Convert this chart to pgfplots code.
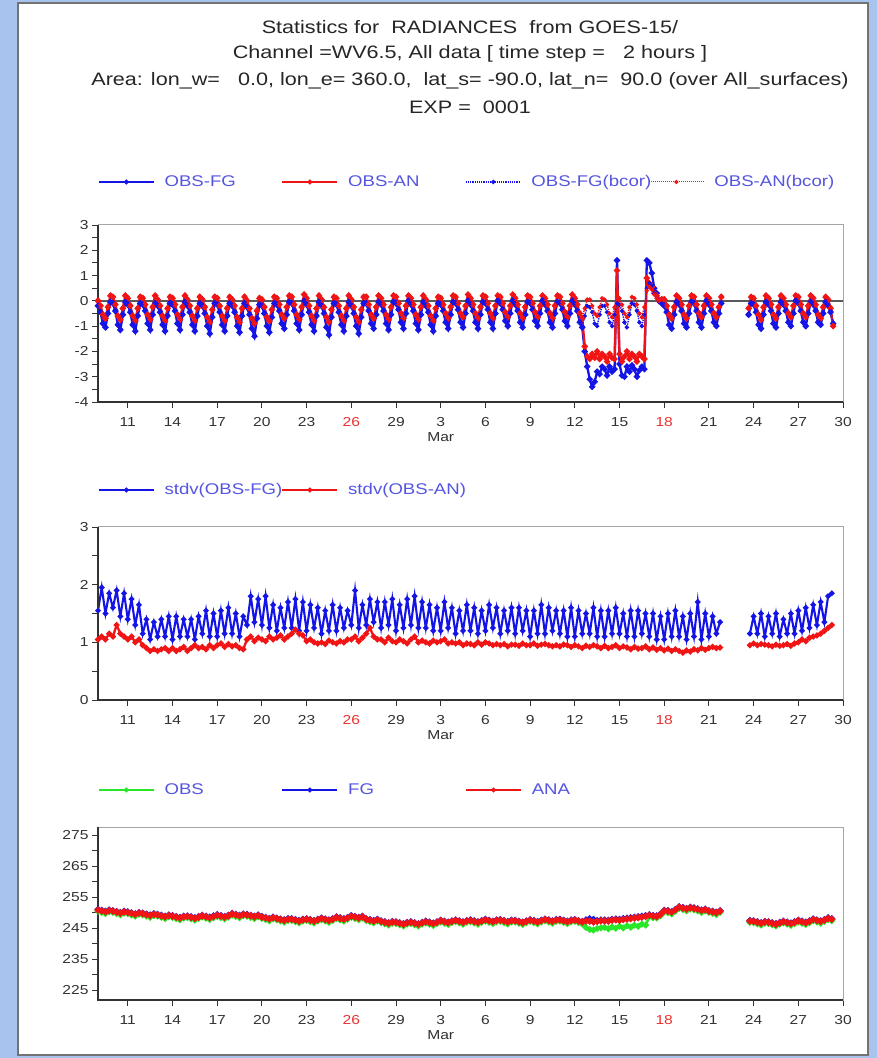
\documentclass[border=0pt]{standalone}
\usepackage{pgfplots}
\pgfplotsset{compat=1.18}
\usepackage{pgfplotstable}
\usepackage{fontspec}
\setmainfont{Liberation Sans}[FakeStretch=1.2]

\definecolor{bgblue}{RGB}{168,196,238}
\definecolor{pblue}{RGB}{20,20,230}
\definecolor{pred}{RGB}{240,20,20}
\definecolor{pgreen}{RGB}{40,230,40}
\definecolor{legtext}{RGB}{85,85,225}
\definecolor{ticktext}{RGB}{50,50,50}
\definecolor{redlab}{RGB}{235,50,50}

% Panel 1: departures, 4-hourly (h = hours since 9 Feb 00Z)
\pgfplotstableread{
h fg an fgb anb
0 -0.20 0.00 -0.15 0.05
4 -0.45 -0.20 -0.40 -0.15
8 -0.90 -0.55 -0.85 -0.50
12 -1.05 -0.70 -1.00 -0.65
16 -0.50 -0.25 -0.45 -0.20
20 -0.05 0.20 0.00 0.25
24 -0.10 0.15 -0.05 0.20
28 -0.40 -0.15 -0.35 -0.10
32 -0.95 -0.60 -0.90 -0.55
36 -1.15 -0.75 -1.10 -0.70
40 -0.55 -0.30 -0.50 -0.25
44 -0.05 0.20 0.00 0.25
48 -0.15 0.10 -0.10 0.15
52 -0.45 -0.20 -0.40 -0.15
56 -0.95 -0.60 -0.90 -0.55
60 -1.20 -0.80 -1.15 -0.75
64 -0.60 -0.30 -0.55 -0.25
68 -0.10 0.15 -0.05 0.20
72 -0.15 0.10 -0.10 0.15
76 -0.40 -0.15 -0.35 -0.10
80 -0.90 -0.55 -0.85 -0.50
84 -1.15 -0.75 -1.10 -0.70
88 -0.55 -0.25 -0.50 -0.20
92 -0.10 0.20 -0.05 0.25
96 -0.20 0.05 -0.15 0.10
100 -0.45 -0.20 -0.40 -0.15
104 -0.95 -0.60 -0.90 -0.55
108 -1.20 -0.80 -1.15 -0.75
112 -0.60 -0.30 -0.55 -0.25
116 -0.10 0.15 -0.05 0.20
120 -0.15 0.10 -0.10 0.15
124 -0.40 -0.15 -0.35 -0.10
128 -0.90 -0.55 -0.85 -0.50
132 -1.15 -0.75 -1.10 -0.70
136 -0.55 -0.25 -0.50 -0.20
140 -0.05 0.20 0.00 0.25
144 -0.20 0.05 -0.15 0.10
148 -0.45 -0.20 -0.40 -0.15
152 -0.95 -0.60 -0.90 -0.55
156 -1.20 -0.80 -1.15 -0.75
160 -0.60 -0.30 -0.55 -0.25
164 -0.10 0.15 -0.05 0.20
168 -0.20 0.05 -0.15 0.10
172 -0.50 -0.25 -0.45 -0.20
176 -1.00 -0.65 -0.95 -0.60
180 -1.30 -0.85 -1.25 -0.80
184 -0.65 -0.35 -0.60 -0.30
188 -0.10 0.15 -0.05 0.20
192 -0.15 0.10 -0.10 0.15
196 -0.45 -0.20 -0.40 -0.15
200 -0.95 -0.60 -0.90 -0.55
204 -1.20 -0.80 -1.15 -0.75
208 -0.60 -0.30 -0.55 -0.25
212 -0.10 0.15 -0.05 0.20
216 -0.20 0.05 -0.15 0.10
220 -0.45 -0.20 -0.40 -0.15
224 -1.00 -0.65 -0.95 -0.60
228 -1.25 -0.85 -1.20 -0.80
232 -0.60 -0.30 -0.55 -0.25
236 -0.10 0.15 -0.05 0.20
240 -0.25 0.00 -0.20 0.05
244 -0.55 -0.30 -0.50 -0.25
248 -1.10 -0.70 -1.05 -0.65
252 -1.40 -0.90 -1.35 -0.85
256 -0.70 -0.40 -0.65 -0.35
260 -0.15 0.10 -0.10 0.15
264 -0.20 0.05 -0.15 0.10
268 -0.50 -0.25 -0.45 -0.20
272 -1.00 -0.65 -0.95 -0.60
276 -1.25 -0.80 -1.20 -0.75
280 -0.65 -0.35 -0.60 -0.30
284 -0.10 0.15 -0.05 0.20
288 -0.15 0.10 -0.10 0.15
292 -0.40 -0.15 -0.35 -0.10
296 -0.90 -0.55 -0.85 -0.50
300 -1.10 -0.70 -1.05 -0.65
304 -0.55 -0.25 -0.50 -0.20
308 -0.05 0.20 0.00 0.25
312 -0.10 0.15 -0.05 0.20
316 -0.40 -0.15 -0.35 -0.10
320 -0.90 -0.55 -0.85 -0.50
324 -1.15 -0.75 -1.10 -0.70
328 -0.55 -0.25 -0.50 -0.20
332 0.00 0.25 0.05 0.25
336 -0.15 0.10 -0.10 0.15
340 -0.45 -0.20 -0.40 -0.15
344 -0.95 -0.60 -0.90 -0.55
348 -1.20 -0.80 -1.15 -0.75
352 -0.60 -0.30 -0.55 -0.25
356 -0.05 0.20 0.00 0.25
360 -0.20 0.05 -0.15 0.10
364 -0.50 -0.25 -0.45 -0.20
368 -1.05 -0.65 -1.00 -0.60
372 -1.35 -0.85 -1.30 -0.80
376 -0.65 -0.35 -0.60 -0.30
380 -0.10 0.15 -0.05 0.20
384 -0.15 0.10 -0.10 0.15
388 -0.45 -0.20 -0.40 -0.15
392 -0.95 -0.60 -0.90 -0.55
396 -1.20 -0.80 -1.15 -0.75
400 -0.60 -0.30 -0.55 -0.25
404 -0.05 0.20 0.00 0.25
408 -0.20 0.05 -0.15 0.10
412 -0.50 -0.25 -0.45 -0.20
416 -1.00 -0.65 -0.95 -0.60
420 -1.30 -0.85 -1.25 -0.80
424 -0.65 -0.35 -0.60 -0.30
428 -0.10 0.15 -0.05 0.20
432 -0.10 0.15 -0.05 0.20
436 -0.40 -0.15 -0.35 -0.10
440 -0.90 -0.55 -0.85 -0.50
444 -1.10 -0.70 -1.05 -0.65
448 -0.55 -0.25 -0.50 -0.20
452 -0.05 0.20 0.00 0.25
456 -0.15 0.10 -0.10 0.15
460 -0.40 -0.15 -0.35 -0.10
464 -0.90 -0.55 -0.85 -0.50
468 -1.15 -0.75 -1.10 -0.70
472 -0.55 -0.25 -0.50 -0.20
476 -0.05 0.20 0.00 0.25
480 -0.10 0.15 -0.05 0.20
484 -0.35 -0.10 -0.30 -0.05
488 -0.85 -0.50 -0.80 -0.45
492 -1.10 -0.70 -1.05 -0.65
496 -0.50 -0.20 -0.45 -0.15
500 0.00 0.20 0.05 0.25
504 -0.15 0.10 -0.10 0.15
508 -0.40 -0.15 -0.35 -0.10
512 -0.90 -0.55 -0.85 -0.50
516 -1.15 -0.75 -1.10 -0.70
520 -0.55 -0.25 -0.50 -0.20
524 -0.05 0.20 0.00 0.25
528 -0.20 0.05 -0.15 0.10
532 -0.45 -0.20 -0.40 -0.15
536 -0.95 -0.60 -0.90 -0.55
540 -1.20 -0.80 -1.15 -0.75
544 -0.60 -0.30 -0.55 -0.25
548 -0.10 0.15 -0.05 0.20
552 -0.15 0.10 -0.10 0.15
556 -0.40 -0.15 -0.35 -0.10
560 -0.85 -0.50 -0.80 -0.45
564 -1.10 -0.70 -1.05 -0.65
568 -0.55 -0.25 -0.50 -0.20
572 -0.05 0.20 0.00 0.25
576 -0.10 0.15 -0.05 0.20
580 -0.35 -0.10 -0.30 -0.05
584 -0.85 -0.50 -0.80 -0.45
588 -1.05 -0.65 -1.00 -0.60
592 -0.50 -0.20 -0.45 -0.15
596 0.00 0.25 0.05 0.25
600 -0.15 0.10 -0.10 0.15
604 -0.40 -0.15 -0.35 -0.10
608 -0.85 -0.50 -0.80 -0.45
612 -1.10 -0.70 -1.05 -0.65
616 -0.55 -0.25 -0.50 -0.20
620 -0.05 0.20 0.00 0.25
624 -0.10 0.15 -0.05 0.20
628 -0.35 -0.10 -0.30 -0.05
632 -0.85 -0.50 -0.80 -0.45
636 -1.10 -0.70 -1.05 -0.65
640 -0.50 -0.20 -0.45 -0.15
644 0.00 0.20 0.05 0.25
648 -0.10 0.15 -0.05 0.20
652 -0.35 -0.10 -0.30 -0.05
656 -0.80 -0.45 -0.75 -0.40
660 -1.00 -0.65 -0.95 -0.60
664 -0.50 -0.20 -0.45 -0.15
668 0.00 0.25 0.05 0.25
672 -0.15 0.10 -0.10 0.15
676 -0.40 -0.15 -0.35 -0.10
680 -0.85 -0.50 -0.80 -0.45
684 -1.05 -0.70 -1.00 -0.65
688 -0.55 -0.25 -0.50 -0.20
692 -0.05 0.20 0.00 0.25
696 -0.10 0.15 -0.05 0.20
700 -0.35 -0.10 -0.30 -0.05
704 -0.80 -0.45 -0.75 -0.40
708 -1.00 -0.65 -0.95 -0.60
712 -0.50 -0.20 -0.45 -0.15
716 0.00 0.20 0.05 0.25
720 -0.15 0.10 -0.10 0.15
724 -0.40 -0.15 -0.35 -0.10
728 -0.85 -0.50 -0.80 -0.45
732 -1.05 -0.70 -1.00 -0.65
736 -0.50 -0.20 -0.45 -0.15
740 -0.05 0.20 0.00 0.25
744 -0.10 0.15 -0.05 0.20
748 -0.35 -0.10 -0.30 -0.05
752 -0.80 -0.45 -0.75 -0.40
756 -1.00 -0.65 -0.95 -0.60
760 -0.50 -0.20 -0.45 -0.15
764 0.00 0.25 0.05 0.25
768 -0.15 0.10 -0.10 0.15
772 -0.40 -0.15 -0.35 -0.10
776 -0.85 -0.50 -0.80 -0.45
780 -1.05 -0.70 -1.00 -0.65
784 -2.00 -1.80 -0.60 -0.30
788 -2.60 -2.20 -0.20 0.05
792 -3.10 -2.30 -0.25 0.05
796 -3.40 -2.10 -0.45 -0.20
800 -3.20 -2.25 -0.90 -0.50
804 -2.80 -2.00 -1.00 -0.60
808 -2.90 -2.30 -0.55 -0.25
812 -2.60 -2.10 -0.20 0.10
816 -2.70 -2.20 -0.20 0.05
820 -2.95 -2.40 -0.45 -0.15
824 -2.60 -2.10 -0.85 -0.50
828 -2.80 -2.25 -1.00 -0.65
832 -2.70 -2.30 -0.55 -0.25
836 1.60 1.20 -0.10 0.15
840 -2.50 -2.10 -0.15 0.10
844 -2.95 -2.40 -0.40 -0.15
848 -3.00 -2.20 -0.85 -0.50
852 -2.60 -2.00 -1.05 -0.65
856 -2.80 -2.30 -0.55 -0.25
860 -2.55 -2.10 -0.10 0.15
864 -2.70 -2.20 -0.15 0.10
868 -3.00 -2.40 -0.40 -0.15
872 -2.75 -2.10 -0.85 -0.50
876 -2.60 -2.20 -1.00 -0.65
880 -2.70 -2.30 -0.55 -0.25
884 1.60 0.90 0.50 0.40
888 1.50 0.70 0.70 0.55
892 1.10 0.55 0.60 0.45
896 0.50 0.30 0.30 0.25
900 0.30 0.20 0.10 0.10
904 0.00 0.00 -0.05 0.00
908 -0.10 0.05 -0.10 0.10
912 -0.20 0.05 -0.15 0.10
916 -0.45 -0.20 -0.40 -0.15
920 -0.95 -0.55 -0.90 -0.50
924 -1.10 -0.70 -1.05 -0.65
928 -0.55 -0.25 -0.50 -0.20
932 -0.05 0.20 0.00 0.25
936 -0.15 0.10 -0.10 0.15
940 -0.40 -0.15 -0.35 -0.10
944 -0.90 -0.55 -0.85 -0.50
948 -1.05 -0.70 -1.00 -0.65
952 -0.50 -0.20 -0.45 -0.15
956 -0.05 0.20 0.00 0.25
960 -0.10 0.15 -0.05 0.20
964 -0.40 -0.15 -0.35 -0.10
968 -0.85 -0.50 -0.80 -0.45
972 -1.05 -0.65 -1.00 -0.60
976 -0.50 -0.20 -0.45 -0.15
980 0.00 0.20 0.05 0.25
984 -0.15 0.10 -0.10 0.15
988 -0.40 -0.15 -0.35 -0.10
992 -0.85 -0.50 -0.80 -0.45
996 -1.00 -0.65 -0.95 -0.60
1000 -0.50 -0.25 -0.45 -0.20
1004 -0.10 0.15 -0.05 0.20
1020 nan nan nan nan
1048 -0.55 -0.30 -0.50 -0.25
1052 -0.10 0.15 -0.05 0.20
1056 -0.15 0.10 -0.10 0.15
1060 -0.45 -0.20 -0.40 -0.15
1064 -0.95 -0.55 -0.90 -0.50
1068 -1.10 -0.75 -1.05 -0.70
1072 -0.55 -0.25 -0.50 -0.20
1076 -0.05 0.20 0.00 0.25
1080 -0.15 0.10 -0.10 0.15
1084 -0.40 -0.15 -0.35 -0.10
1088 -0.90 -0.55 -0.85 -0.50
1092 -1.05 -0.70 -1.00 -0.65
1096 -0.50 -0.25 -0.45 -0.20
1100 -0.05 0.20 0.00 0.25
1104 -0.15 0.10 -0.10 0.15
1108 -0.40 -0.15 -0.35 -0.10
1112 -0.85 -0.50 -0.80 -0.45
1116 -1.00 -0.65 -0.95 -0.60
1120 -0.50 -0.20 -0.45 -0.15
1124 0.00 0.20 0.05 0.25
1128 -0.10 0.15 -0.05 0.20
1132 -0.40 -0.15 -0.35 -0.10
1136 -0.85 -0.50 -0.80 -0.45
1140 -1.00 -0.65 -0.95 -0.60
1144 -0.50 -0.20 -0.45 -0.15
1148 -0.05 0.20 0.00 0.25
1152 -0.15 0.10 -0.10 0.15
1156 -0.40 -0.15 -0.35 -0.10
1160 -0.85 -0.55 -0.80 -0.50
1164 -0.95 -0.70 -0.90 -0.65
1168 -0.50 -0.25 -0.45 -0.20
1172 -0.05 0.15 0.00 0.20
1176 -0.20 0.05 -0.15 0.10
1180 -0.45 -0.30 -0.40 -0.25
1184 -0.90 -1.00 -0.85 -0.95
}\tabA

% Panel 2: standard deviations, 6-hourly
\pgfplotstableread{
h sfg san
0 1.55 1.05
6 1.95 1.10
12 1.50 1.05
18 1.85 1.15
24 1.60 1.10
30 1.90 1.30
36 1.45 1.15
42 1.85 1.10
48 1.40 1.05
54 1.75 1.10
60 1.30 1.00
66 1.65 1.05
72 1.15 0.95
78 1.40 0.90
84 1.05 0.85
90 1.35 0.88
96 1.10 0.85
102 1.40 0.88
108 1.10 0.90
114 1.45 0.85
120 1.05 0.90
126 1.45 0.85
132 1.10 0.88
138 1.40 0.92
144 1.10 0.85
150 1.40 0.90
156 1.05 0.95
162 1.45 0.90
168 1.15 0.92
174 1.55 0.88
180 1.10 0.95
186 1.50 0.90
192 1.10 0.95
198 1.55 0.98
204 1.15 0.92
210 1.60 0.97
216 1.15 0.93
222 1.50 0.95
228 1.10 0.90
234 1.45 0.88
240 1.30 1.05
246 1.80 1.10
252 1.35 1.02
258 1.75 1.08
264 1.30 1.05
270 1.80 1.02
276 1.25 1.10
282 1.65 1.05
288 1.20 1.08
294 1.60 1.12
300 1.25 1.05
306 1.70 1.10
312 1.25 1.15
318 1.75 1.22
324 1.20 1.15
330 1.70 1.12
336 1.20 1.02
342 1.65 1.05
348 1.25 1.00
354 1.60 0.98
360 1.15 1.00
366 1.55 0.97
372 1.20 1.03
378 1.65 1.00
384 1.20 0.98
390 1.60 1.02
396 1.25 1.00
402 1.55 1.05
408 1.30 1.05
414 1.90 1.10
420 1.25 1.02
426 1.65 1.08
432 1.30 1.15
438 1.75 1.25
444 1.35 1.10
450 1.70 1.05
456 1.25 1.05
462 1.70 1.00
468 1.30 1.08
474 1.75 1.02
480 1.20 1.00
486 1.65 1.05
492 1.25 1.02
498 1.75 0.98
504 1.30 1.05
510 1.80 1.10
516 1.25 1.00
522 1.70 1.03
528 1.25 1.00
534 1.65 0.98
540 1.20 1.03
546 1.60 1.00
552 1.20 1.02
558 1.70 1.05
564 1.25 0.98
570 1.60 1.00
576 1.15 0.98
582 1.55 1.00
588 1.20 0.95
594 1.65 0.98
600 1.20 0.97
606 1.60 0.95
612 1.15 1.00
618 1.55 0.96
624 1.20 1.00
630 1.65 0.98
636 1.25 0.95
642 1.60 0.97
648 1.15 0.95
654 1.55 0.97
660 1.20 0.93
666 1.60 0.96
672 1.15 0.96
678 1.60 0.94
684 1.20 0.98
690 1.55 0.95
696 1.10 0.95
702 1.55 0.98
708 1.15 0.94
714 1.65 0.96
720 1.15 0.97
726 1.60 0.95
732 1.20 0.93
738 1.55 0.95
744 1.15 0.93
750 1.55 0.96
756 1.10 0.95
762 1.60 0.92
768 1.10 0.95
774 1.55 0.93
780 1.15 0.90
786 1.50 0.94
792 1.15 0.92
798 1.60 0.95
804 1.10 0.93
810 1.55 0.90
816 1.10 0.94
822 1.55 0.90
828 1.15 0.92
834 1.60 0.95
840 1.15 0.90
846 1.50 0.93
852 1.10 0.91
858 1.55 0.88
864 1.10 0.92
870 1.55 0.89
876 1.15 0.90
882 1.50 0.93
888 1.10 0.88
894 1.50 0.91
900 1.05 0.87
906 1.45 0.90
912 1.05 0.86
918 1.50 0.89
924 1.10 0.85
930 1.55 0.88
936 1.10 0.85
942 1.45 0.82
948 1.05 0.86
954 1.50 0.84
960 1.10 0.88
966 1.70 0.86
972 1.05 0.90
978 1.50 0.87
984 1.10 0.90
990 1.45 0.92
996 1.15 0.90
1002 1.35 0.91
1020 nan nan
1050 1.15 0.95
1056 1.45 0.98
1062 1.15 0.95
1068 1.50 0.97
1074 1.10 0.96
1080 1.45 0.95
1086 1.15 0.93
1092 1.50 0.96
1098 1.10 0.94
1104 1.40 0.95
1110 1.15 0.97
1116 1.50 0.94
1122 1.15 0.98
1128 1.55 1.00
1134 1.20 1.05
1140 1.60 1.02
1146 1.25 1.08
1152 1.65 1.10
1158 1.30 1.12
1164 1.70 1.15
1170 1.35 1.20
1176 1.80 1.25
1182 1.85 1.30
}\tabB

% Panel 3: OBS, FG, ANA, 6-hourly
\pgfplotstableread{
h obs fg an
0 250.5 251.1 250.9
6 250.1 250.8 250.6
12 249.7 250.5 250.3
18 250.3 250.9 250.7
24 250.1 250.7 250.5
30 249.7 250.4 250.2
36 249.3 250.1 249.9
42 249.9 250.5 250.3
48 249.7 250.3 250.1
54 249.3 250.0 249.8
60 248.9 249.7 249.5
66 249.5 250.1 249.9
72 249.3 249.9 249.7
78 248.9 249.6 249.4
84 248.5 249.3 249.1
90 249.1 249.7 249.5
96 248.9 249.5 249.3
102 248.5 249.2 249.0
108 248.1 248.9 248.7
114 248.7 249.3 249.1
120 248.5 249.1 248.9
126 248.1 248.8 248.6
132 247.7 248.5 248.3
138 248.3 248.9 248.7
144 248.4 249.0 248.8
150 248.0 248.7 248.5
156 247.6 248.4 248.2
162 248.2 248.8 248.6
168 248.6 249.2 249.0
174 248.2 248.9 248.7
180 247.8 248.6 248.4
186 248.4 249.0 248.8
192 248.8 249.4 249.2
198 248.4 249.1 248.9
204 248.0 248.8 248.6
210 248.6 249.2 249.0
216 249.2 249.8 249.6
222 248.8 249.5 249.3
228 248.4 249.2 249.0
234 249.0 249.6 249.4
240 248.9 249.5 249.3
246 248.5 249.2 249.0
252 248.1 248.9 248.7
258 248.7 249.3 249.1
264 248.2 248.8 248.6
270 247.8 248.5 248.3
276 247.4 248.2 248.0
282 248.0 248.6 248.4
288 247.7 248.3 248.1
294 247.3 248.0 247.8
300 246.9 247.7 247.5
306 247.5 248.1 247.9
312 247.5 248.1 247.9
318 247.1 247.8 247.6
324 246.7 247.5 247.3
330 247.3 247.9 247.7
336 247.5 248.1 247.9
342 247.1 247.8 247.6
348 246.7 247.5 247.3
354 247.3 247.9 247.7
360 247.7 248.3 248.1
366 247.3 248.0 247.8
372 246.9 247.7 247.5
378 247.5 248.1 247.9
384 248.1 248.7 248.5
390 247.7 248.4 248.2
396 247.3 248.1 247.9
402 247.9 248.5 248.3
408 248.5 249.1 248.9
414 248.1 248.8 248.6
420 247.7 248.5 248.3
426 248.3 248.9 248.7
432 247.5 248.1 247.9
438 247.1 247.8 247.6
444 246.7 247.5 247.3
450 247.3 247.9 247.7
456 246.8 247.4 247.2
462 246.4 247.1 246.9
468 246.0 246.8 246.6
474 246.6 247.2 247.0
480 246.5 247.1 246.9
486 246.1 246.8 246.6
492 245.7 246.5 246.3
498 246.3 246.9 246.7
504 246.5 247.1 246.9
510 246.1 246.8 246.6
516 245.7 246.5 246.3
522 246.3 246.9 246.7
528 246.7 247.3 247.1
534 246.3 247.0 246.8
540 245.9 246.7 246.5
546 246.5 247.1 246.9
552 247.0 247.6 247.4
558 246.6 247.3 247.1
564 246.2 247.0 246.8
570 246.8 247.4 247.2
576 247.1 247.7 247.5
582 246.7 247.4 247.2
588 246.3 247.1 246.9
594 246.9 247.5 247.3
600 247.1 247.7 247.5
606 246.7 247.4 247.2
612 246.3 247.1 246.9
618 246.9 247.5 247.3
624 247.3 247.9 247.7
630 246.9 247.6 247.4
636 246.5 247.3 247.1
642 247.1 247.7 247.5
648 247.2 247.8 247.6
654 246.8 247.5 247.3
660 246.4 247.2 247.0
666 247.0 247.6 247.4
672 247.0 247.6 247.4
678 246.6 247.3 247.1
684 246.2 247.0 246.8
690 246.8 247.4 247.2
696 247.2 247.8 247.6
702 246.8 247.5 247.3
708 246.4 247.2 247.0
714 247.0 247.6 247.4
720 247.4 248.0 247.8
726 247.0 247.7 247.5
732 246.6 247.4 247.2
738 247.2 247.8 247.6
744 247.3 247.9 247.7
750 246.9 247.6 247.4
756 246.5 247.3 247.1
762 247.1 247.7 247.5
768 247.2 247.8 247.6
774 246.8 247.5 247.3
780 246.4 247.2 247.0
786 245.2 247.7 247.3
792 244.6 248.1 247.3
798 244.4 247.9 247.0
804 244.9 247.5 247.2
810 245.1 247.7 247.4
816 245.3 247.7 247.4
822 244.8 247.6 247.3
828 245.4 247.9 247.6
834 245.0 248.0 247.7
840 245.6 247.9 247.6
846 245.1 248.1 247.8
852 245.8 248.3 248.0
858 245.3 248.4 248.1
864 246.0 248.6 248.3
870 245.6 248.7 248.4
876 246.3 248.9 248.6
882 246.0 249.1 248.8
888 248.7 249.4 249.2
894 248.4 249.1 248.9
900 248.3 249.0 248.8
906 249.0 249.6 249.4
912 250.2 250.8 250.6
918 250.0 250.7 250.5
924 249.6 250.4 250.2
930 250.5 251.1 250.9
936 251.4 252.0 251.8
942 251.0 251.7 251.5
948 250.6 251.4 251.2
954 251.2 251.8 251.6
960 251.0 251.6 251.4
966 250.6 251.3 251.1
972 250.1 250.9 250.7
978 250.6 251.2 251.0
984 250.1 250.7 250.5
990 249.8 250.5 250.3
996 249.4 250.2 250.0
1002 250.1 250.7 250.5
1020 nan nan nan
1050 246.9 247.5 247.3
1056 246.8 247.4 247.2
1062 246.4 247.1 246.9
1068 246.0 246.8 246.6
1074 246.6 247.2 247.0
1080 246.5 247.1 246.9
1086 246.1 246.8 246.6
1092 245.7 246.5 246.3
1098 246.3 246.9 246.7
1104 246.7 247.3 247.1
1110 246.3 247.0 246.8
1116 245.9 246.7 246.5
1122 246.5 247.1 246.9
1128 247.0 247.6 247.4
1134 246.6 247.3 247.1
1140 246.2 247.0 246.8
1146 246.8 247.4 247.2
1152 247.4 248.0 247.8
1158 247.0 247.7 247.5
1164 246.6 247.4 247.2
1170 247.2 247.8 247.6
1176 247.8 248.4 248.2
1182 247.4 248.1 247.9
}\tabC

\pgfplotsset{
  panel/.style={
    scale only axis, width=745pt,
    xmin=0, xmax=1200,
    xtick={48,120,...,1200},
    xticklabels={11,14,17,20,23,{\color{redlab}26},29,{3\\Mar},6,9,12,15,{\color{redlab}18},21,24,27,30},
    tick align=outside, tick pos=left,
    major tick length=6pt, minor tick length=6pt,
    tick style={ticktext, line width=0.9pt},
    axis line style={black!35, line width=1pt},
    ticklabel style={font=\fontsize{13}{15}\selectfont, text=ticktext},
    xticklabel style={align=center, yshift=-6pt},
    /pgf/number format/assume math mode=true,
    unbounded coords=jump,
    clip=false,
    legend columns=4,
    legend cell align=left,
    legend style={draw=none, fill=none, at={(0,1)}, anchor=west,
      font=\fontsize{15.5}{16}\selectfont, text=legtext,
      inner sep=0pt, outer sep=0pt,
      nodes={inner sep=0pt},
      /tikz/every odd column/.append style={column sep=10pt},
      /tikz/every even column/.append style={column sep=0pt}},
    legend image code/.code={\draw[##1] (0pt,0pt) -- (55pt,0pt);
      \fill[##1,solid] (27.5pt,0pt) circle (1.6pt);},
  },
}

\begin{document}
\begin{tikzpicture}[x=1pt,y=1pt]
\useasboundingbox (0,0) rectangle (877,1058);
\fill[bgblue] (0,0) rectangle (877,1058);
\fill[white] (18,3) rectangle (868,1055);
\draw[black!55, line width=1.5pt] (18,3) rectangle (868,1055);

\begin{scope}[font=\fontsize{18}{20}\selectfont, text=black!85]
\node at (470,1031) {Statistics for~ RADIANCES~ from GOES-15/};
\node at (470,1004) {Channel =WV6.5, All data [ time step =~~ 2 hours ]};
\node at (470,977) {Area: lon\_w=~~ 0.0, lon\_e= 360.0,~ lat\_s= -90.0, lat\_n=~ 90.0 (over All\_surfaces)};
\node at (470,951) {EXP =~ 0001};
\end{scope}

% ---------- Panel 1 ----------
\begin{axis}[panel, at={(98pt,656pt)}, anchor=south west, height=177pt,
  ymin=-4, ymax=3, ytick={-4,-3,...,3}, minor y tick num=1,
  legend style={yshift=43pt}]
\addplot[forget plot, black!65, line width=1.5pt] coordinates {(0,0) (1200,0)};
\addplot[forget plot, pblue, line width=2.3pt, mark=*, mark size=1.8pt] table[x=h,y=fg]{\tabA};
\addplot[forget plot, pred, line width=2.3pt, mark=*, mark size=1.8pt] table[x=h,y=an]{\tabA};
\addplot[forget plot, pblue, densely dotted, line width=1.4pt, mark=*, mark size=1.4pt, mark options={solid}] table[x=h,y=fgb]{\tabA};
\addplot[forget plot, pred, densely dotted, line width=1.4pt, mark=*, mark size=1.4pt, mark options={solid}] table[x=h,y=anb]{\tabA};
\addlegendimage{pblue, line width=1.6pt}
\addlegendentry{\makebox[117pt][l]{OBS-FG}}
\addlegendimage{pred, line width=1.6pt}
\addlegendentry{\makebox[117pt][l]{OBS-AN}}
\addlegendimage{pblue, densely dotted, line width=1.2pt}
\addlegendentry{\makebox[117pt][l]{OBS-FG(bcor)}}
\addlegendimage{pred, densely dotted, line width=1pt}
\addlegendentry{OBS-AN(bcor)}
\draw[ticktext, line width=1.2pt] (rel axis cs:0,1) -- (rel axis cs:0,0) -- (rel axis cs:1,0);
\end{axis}

% ---------- Panel 2 ----------
\begin{axis}[panel, at={(98pt,358pt)}, anchor=south west, height=173pt,
  ymin=0, ymax=3, ytick={0,1,2,3}, minor y tick num=1,
  legend style={yshift=37pt}]
\addplot[forget plot, pblue, line width=2.1pt, mark=*, mark size=1.6pt] table[x=h,y=sfg]{\tabB};
\addplot[forget plot, pred, line width=2.3pt, mark=*, mark size=1.7pt] table[x=h,y=san]{\tabB};
\addlegendimage{pblue, line width=1.6pt}
\addlegendentry{\makebox[117pt][l]{stdv(OBS-FG)}}
\addlegendimage{pred, line width=1.6pt}
\addlegendentry{stdv(OBS-AN)}
\draw[ticktext, line width=1.2pt] (rel axis cs:0,1) -- (rel axis cs:0,0) -- (rel axis cs:1,0);
\end{axis}

% ---------- Panel 3 ----------
\begin{axis}[panel, at={(98pt,58pt)}, anchor=south west, height=173pt,
  ymin=221.8, ymax=277.7, ytick={225,235,...,275}, minor y tick num=1,
  legend style={yshift=37pt}]
\addplot[forget plot, pgreen, line width=2.6pt, mark=*, mark size=1.8pt] table[x=h,y=obs]{\tabC};
\addplot[forget plot, pblue, line width=2.6pt, mark=*, mark size=1.8pt] table[x=h,y=fg]{\tabC};
\addplot[forget plot, pred, line width=2.8pt, mark=*, mark size=1.9pt] table[x=h,y=an]{\tabC};
\addlegendimage{pgreen, line width=1.6pt}
\addlegendentry{\makebox[117pt][l]{OBS}}
\addlegendimage{pblue, line width=1.6pt}
\addlegendentry{\makebox[117pt][l]{FG}}
\addlegendimage{pred, line width=1.6pt}
\addlegendentry{ANA}
\draw[ticktext, line width=1.2pt] (rel axis cs:0,1) -- (rel axis cs:0,0) -- (rel axis cs:1,0);
\end{axis}
\end{tikzpicture}
\end{document}
